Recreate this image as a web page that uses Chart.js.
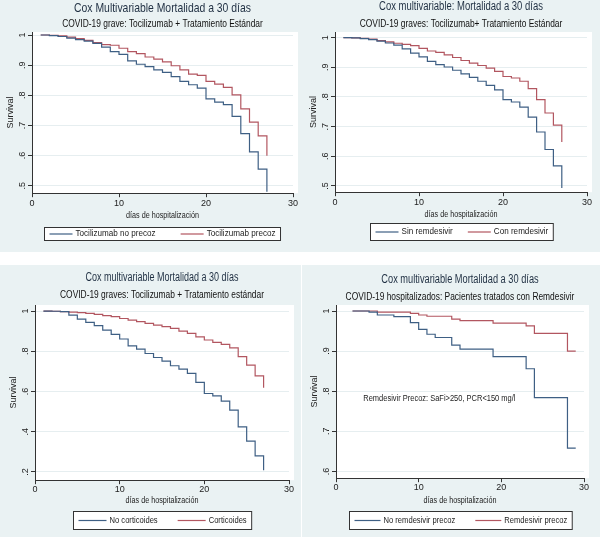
<!DOCTYPE html>
<html>
<head>
<meta charset="utf-8">
<script src="https://cdn.jsdelivr.net/npm/chart.js@4.4.1/dist/chart.umd.min.js"></script>
<style>
body { margin:0; background:#fff; width:600px; height:541px; position:relative; overflow:hidden; }
.panel { position:absolute; background:#eaf2f3; }
</style>
</head>
<body>
<div class="panel" style="left:0;top:0;width:300px;height:252px"><canvas id="g1"></canvas></div>
<div class="panel" style="left:300px;top:0;width:300px;height:252px"><canvas id="g2"></canvas></div>
<div class="panel" style="left:0;top:265px;width:301px;height:272px"><canvas id="g3"></canvas></div>
<div class="panel" style="left:302px;top:265px;width:298px;height:272px"><canvas id="g4"></canvas></div>
<script>
// dias de hospitalizacion (tiempos de evento)
var dias = [1,2,3,4,5,6,7,8,9,10,11,12,13,14,15,16,17,18,19,20,21,22,23,24,25,26,27];

// grafico 1: tocilizumab precoz / no precoz
var tociNoPrecoz = [1.000,0.998,0.995,0.990,0.985,0.980,0.972,0.960,0.945,0.936,0.914,0.903,0.895,0.884,0.876,0.862,0.846,0.835,0.824,0.788,0.777,0.769,0.730,0.673,0.612,0.555,0.480];
var tociPrecoz   = [1.000,0.999,0.997,0.993,0.988,0.982,0.975,0.968,0.966,0.956,0.945,0.938,0.927,0.920,0.911,0.898,0.884,0.870,0.866,0.846,0.837,0.826,0.801,0.755,0.711,0.665,0.599];

// grafico 2: remdesivir
var sinRemdesivir = [1.000,0.999,0.997,0.993,0.988,0.982,0.975,0.962,0.948,0.935,0.920,0.909,0.901,0.890,0.878,0.866,0.853,0.839,0.824,0.791,0.783,0.766,0.732,0.682,0.623,0.568,0.493];
var conRemdesivir = [1.000,0.999,0.998,0.995,0.990,0.986,0.981,0.977,0.973,0.964,0.955,0.950,0.942,0.933,0.923,0.914,0.906,0.897,0.886,0.869,0.864,0.853,0.828,0.791,0.746,0.705,0.648];

// grafico 3: corticoides
var noCorticoides = [1.000,0.999,0.997,0.980,0.960,0.944,0.927,0.905,0.884,0.861,0.827,0.811,0.789,0.769,0.751,0.728,0.711,0.690,0.645,0.590,0.578,0.552,0.507,0.424,0.353,0.280,0.208];
var corticoides   = [1.000,0.999,0.997,0.995,0.992,0.988,0.983,0.977,0.972,0.963,0.955,0.947,0.939,0.930,0.922,0.914,0.900,0.889,0.872,0.856,0.844,0.834,0.817,0.773,0.731,0.678,0.618];

// grafico 4: remdesivir precoz (tiempos propios)
var diasNoPrecoz = [2,4,5,7,9,10,11,12,14,15,19,23,24,28,29];
var remNoPrecoz  = [1.000,0.997,0.990,0.986,0.971,0.954,0.942,0.934,0.915,0.905,0.886,0.856,0.784,0.658,0.658];
var diasPrecoz   = [2,5,9,10,11,14,15,19,23,24,28,29];
var remPrecoz    = [1.000,0.997,0.994,0.990,0.987,0.980,0.976,0.970,0.963,0.944,0.900,0.900];

var ticksX  = [0,10,20,30];
var ticksY1 = [0.5,0.6,0.7,0.8,0.9,1];
var ticksY3 = [0.2,0.4,0.6,0.8,1];
var ticksY4 = [0.6,0.7,0.8,0.9,1];

var FAM = "'Liberation Sans', Arial, sans-serif";
var AZUL = 'rgb(62,95,132)';
var ROJO = 'rgb(178,86,96)';

function puntos(t, v) {
  return t.map(function(d, i) { return {x: d, y: v[i]}; });
}
function etiquetaY(v) {
  var s = String(Math.round(v * 10) / 10);
  return s.replace(/^0\./, '.');
}
// texto estrecho (tipo Arial Narrow de Stata): escala horizontal
function ancho(ctx, s, size, sx) {
  ctx.font = size + 'px ' + FAM;
  return ctx.measureText(s).width * sx;
}
function escribe(ctx, s, x, y, size, sx, color, align, rot) {
  ctx.save();
  ctx.font = size + 'px ' + FAM;
  ctx.fillStyle = color;
  ctx.textAlign = align || 'center';
  ctx.textBaseline = 'middle';
  ctx.translate(x, y);
  if (rot) ctx.rotate(rot);
  ctx.scale(sx, 1);
  ctx.fillText(s, 0, 0);
  ctx.restore();
}

// fondo blanco de la region del grafico
var fondo = {
  id: 'fondo',
  beforeDraw: function(chart) {
    var a = chart.chartArea, ctx = chart.ctx;
    ctx.save();
    ctx.fillStyle = '#ffffff';
    ctx.fillRect(a.left, a.top, a.right - a.left + 5, a.bottom - a.top);
    ctx.restore();
  }
};

// titulos, etiquetas de ejes y nota
var rotulos = {
  id: 'rotulos',
  afterDraw: function(chart, args, o) {
    var ctx = chart.ctx, a = chart.chartArea, s = chart.scales.y;
    var cx = (a.left + a.right) / 2;
    escribe(ctx, o.titulo, cx, o.titY, o.titSize, o.titSx, '#1f2f42');
    escribe(ctx, o.subtitulo, cx, o.subY, 10, 0.84, '#111');
    escribe(ctx, 'días de hospitalización', cx, a.bottom + o.xtY, 9, 0.8, '#222');
    escribe(ctx, 'Survival', a.left - 21, (a.top + a.bottom) / 2, 9, 1, '#222', 'center', -Math.PI / 2);
    s.ticks.forEach(function(t) {
      escribe(ctx, etiquetaY(t.value), a.left - 9, s.getPixelForValue(t.value), 9, 1, '#222', 'center', -Math.PI / 2);
    });
    if (o.nota) {
      escribe(ctx, o.nota, chart.scales.x.getPixelForValue(o.notaX), s.getPixelForValue(o.notaY), 8.5, 0.88, '#222', 'left');
    }
  }
};

// leyenda en caja bajo el eje x
var leyenda = {
  id: 'leyenda',
  afterDraw: function(chart, args, o) {
    var ctx = chart.ctx, a = chart.chartArea, ds = chart.data.datasets;
    ctx.save();
    var w0 = ancho(ctx, ds[0].label, o.size, o.sx);
    var w1 = ancho(ctx, ds[1].label, o.size, o.sx);
    var total = 5 + o.linea + 3 + w0 + o.gap + o.linea + 3 + w1 + 5;
    var x = Math.round((a.left + a.right) / 2 - total / 2) + 0.5;
    var y = Math.round(a.bottom + o.offset) + 0.5;
    ctx.fillStyle = '#fff';
    ctx.fillRect(x, y, total, o.alto);
    ctx.strokeStyle = '#333';
    ctx.lineWidth = 1;
    ctx.strokeRect(x, y, total, o.alto);
    var cy = y + o.alto / 2;
    var px = x + 5;
    [0, 1].forEach(function(i) {
      ctx.strokeStyle = ds[i].borderColor;
      ctx.lineWidth = 1.2;
      ctx.beginPath();
      ctx.moveTo(px, cy);
      ctx.lineTo(px + o.linea, cy);
      ctx.stroke();
      px += o.linea + 3;
      escribe(ctx, ds[i].label, px, cy, o.size, o.sx, '#222', 'left');
      px += (i === 0 ? w0 : w1) + o.gap;
    });
    ctx.restore();
  }
};

function serie(label, t, v, color) {
  return {
    label: label,
    data: puntos(t, v),
    borderColor: color,
    backgroundColor: color,
    borderWidth: 1.2,
    pointRadius: 0,
    stepped: 'before',
    fill: false,
    clip: 4
  };
}

function crear(id, p) {
  new Chart(document.getElementById(id), {
    type: 'line',
    data: { datasets: [
      serie(p.nombres[0], p.t0, p.v0, AZUL),
      serie(p.nombres[1], p.t1, p.v1, ROJO)
    ]},
    options: {
      responsive: true,
      maintainAspectRatio: false,
      animation: false,
      events: [],
      layout: { padding: p.pad },
      scales: {
        x: {
          type: 'linear', min: 0, max: 30,
          afterBuildTicks: function(s) { s.ticks = ticksX.map(function(v) { return {value: v}; }); },
          grid: { drawOnChartArea: false, tickLength: 4, tickColor: '#333' },
          border: { color: '#333', width: 1 },
          ticks: { color: '#222', padding: p.tickPad, font: { family: FAM, size: 9 } }
        },
        y: {
          type: 'linear', min: p.yMin, max: p.yMax,
          afterBuildTicks: function(s) { s.ticks = p.ticksY.map(function(v) { return {value: v}; }); },
          afterFit: function(s) { s.width += 9; },
          grid: { color: '#e6eef0', lineWidth: 1, tickLength: 4, tickColor: '#333' },
          border: { color: '#333', width: 1 },
          ticks: { display: false }
        }
      },
      plugins: {
        legend: { display: false },
        tooltip: { enabled: false },
        leyenda: p.ley,
        rotulos: p.rot
      }
    },
    plugins: [fondo, rotulos, leyenda]
  });
}

crear('g1', {
  nombres: ['Tocilizumab no precoz', 'Tocilizumab precoz'],
  t0: dias, v0: tociNoPrecoz, t1: dias, v1: tociPrecoz,
  ticksY: ticksY1, yMin: 0.475, yMax: 1.01,
  pad: { top: 32, left: 19, right: 7, bottom: 42 },
  tickPad: 1,
  rot: { titulo: 'Cox Multivariable Mortalidad a 30 días', titY: 8, titSize: 13, titSx: 0.8,
         subtitulo: 'COVID-19 grave: Tocilizumab + Tratamiento Estándar', subY: 24, xtY: 22 },
  ley: { size: 9, sx: 0.9, linea: 23, gap: 25, offset: 34, alto: 13 }
});

crear('g2', {
  nombres: ['Sin remdesivir', 'Con remdesivir'],
  t0: dias, v0: sinRemdesivir, t1: dias, v1: conRemdesivir,
  ticksY: ticksY1, yMin: 0.479, yMax: 1.019,
  pad: { top: 32, left: 22, right: 13, bottom: 43 },
  tickPad: 1,
  rot: { titulo: 'Cox multivariable: Mortalidad a 30 días', titY: 7, titSize: 12, titSx: 0.79,
         subtitulo: 'COVID-19 graves: Tocilizumab+ Tratamiento Estándar', subY: 24, xtY: 22 },
  ley: { size: 9, sx: 0.9, linea: 23, gap: 15, offset: 31, alto: 17 }
});

crear('g3', {
  nombres: ['No corticoides', 'Corticoides'],
  t0: dias, v0: noCorticoides, t1: dias, v1: corticoides,
  ticksY: ticksY3, yMin: 0.159, yMax: 1.03,
  pad: { top: 40, left: 22, right: 12, bottom: 42 },
  tickPad: 0,
  rot: { titulo: 'Cox multivariable Mortalidad a 30 días', titY: 13, titSize: 12.5, titSx: 0.72,
         subtitulo: 'COVID-19 graves: Tocilizumab + Tratamiento estándar', subY: 30, xtY: 20 },
  ley: { size: 9.5, sx: 0.8, linea: 28, gap: 20, offset: 31, alto: 18 }
});

crear('g4', {
  nombres: ['No remdesivir precoz', 'Remdesivir precoz'],
  t0: diasNoPrecoz, v0: remNoPrecoz, t1: diasPrecoz, v1: remPrecoz,
  ticksY: ticksY4, yMin: 0.583, yMax: 1.015,
  pad: { top: 40, left: 21, right: 16, bottom: 44 },
  tickPad: 0,
  rot: { titulo: 'Cox multivariable Mortalidad a 30 días', titY: 15, titSize: 12.5, titSx: 0.74,
         subtitulo: 'COVID-19 hospitalizados: Pacientes tratados con Remdesivir', subY: 32, xtY: 22,
         nota: 'Remdesivir Precoz: SaFi>250, PCR<150 mg/l', notaX: 3.3, notaY: 0.781 },
  ley: { size: 9.5, sx: 0.8, linea: 26, gap: 20, offset: 33, alto: 18 }
});
</script>
</body>
</html>
